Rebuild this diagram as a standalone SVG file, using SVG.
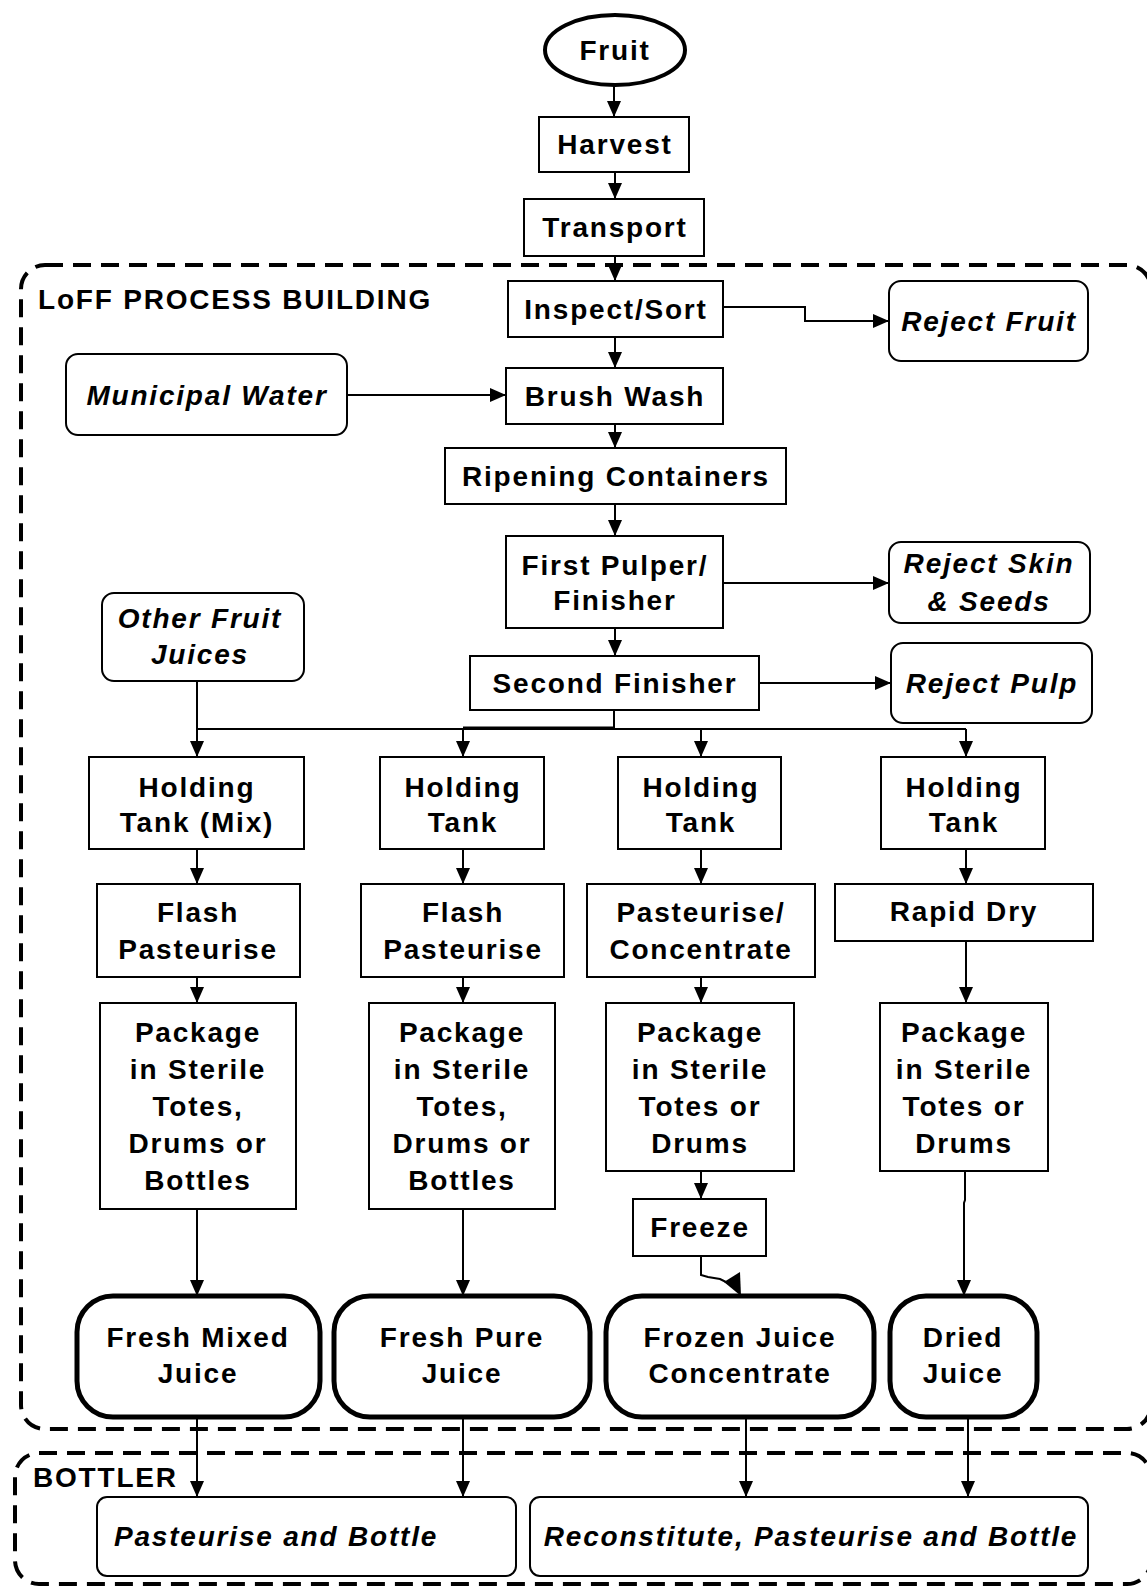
<svg xmlns="http://www.w3.org/2000/svg" width="1147" height="1586" viewBox="0 0 1147 1586">
<style>
  .bg{fill:#ffffff}
  .box{fill:#ffffff;stroke:#000;stroke-width:2}
  .ext{fill:#ffffff;stroke:#000;stroke-width:2}
  .fin{fill:#ffffff;stroke:#000;stroke-width:5}
  .zone{fill:none;stroke:#000;stroke-width:4;stroke-dasharray:18 10}
  .t{font-family:"Liberation Sans",Arial,sans-serif;font-weight:bold;font-size:28px;letter-spacing:1.8px;fill:#000;text-anchor:middle}
  .i{font-style:italic}
  .l{text-anchor:start}
  .c{fill:none;stroke:#000;stroke-width:2}
</style>
<defs>
  <marker id="ah" viewBox="0 0 16 14" refX="16" refY="7" markerWidth="16" markerHeight="14" markerUnits="userSpaceOnUse" orient="auto">
    <path d="M0,0 L16,7 L0,14 z" fill="#000"/>
  </marker>
</defs>
<rect class="bg" x="0" y="0" width="1147" height="1586"/>

<g id="zones">
  <rect class="zone" x="21" y="265" width="1130" height="1164" rx="24"/>
  <rect class="zone" x="15" y="1453" width="1136" height="131" rx="24"/>
  <text class="t l" x="38" y="309">LoFF PROCESS BUILDING</text>
  <text class="t l" x="33" y="1487">BOTTLER</text>
</g>

<g id="connectors">
  <path class="c" d="M614,86 V117" marker-end="url(#ah)"/>
  <path class="c" d="M615,172 V199" marker-end="url(#ah)"/>
  <path class="c" d="M615,256 V281" marker-end="url(#ah)"/>
  <path class="c" d="M723,307 H805 V321 H889" marker-end="url(#ah)"/>
  <path class="c" d="M615,337 V368" marker-end="url(#ah)"/>
  <path class="c" d="M347,395 H506" marker-end="url(#ah)"/>
  <path class="c" d="M615,424 V448" marker-end="url(#ah)"/>
  <path class="c" d="M615,504 V536" marker-end="url(#ah)"/>
  <path class="c" d="M723,583 H889" marker-end="url(#ah)"/>
  <path class="c" d="M615,628 V656" marker-end="url(#ah)"/>
  <path class="c" d="M759,683 H891" marker-end="url(#ah)"/>
  <path class="c" d="M614,710 V729"/>
  <path class="c" d="M197,729 H966"/>
  <path class="c" style="stroke-width:3" d="M463,728 H614"/>
  <path class="c" d="M197,681 V757" marker-end="url(#ah)"/>
  <path class="c" d="M463,729 V757" marker-end="url(#ah)"/>
  <path class="c" d="M701,729 V757" marker-end="url(#ah)"/>
  <path class="c" d="M966,729 V757" marker-end="url(#ah)"/>
  <path class="c" d="M197,849 V884" marker-end="url(#ah)"/>
  <path class="c" d="M463,849 V884" marker-end="url(#ah)"/>
  <path class="c" d="M701,849 V884" marker-end="url(#ah)"/>
  <path class="c" d="M966,849 V884" marker-end="url(#ah)"/>
  <path class="c" d="M197,977 V1003" marker-end="url(#ah)"/>
  <path class="c" d="M463,977 V1003" marker-end="url(#ah)"/>
  <path class="c" d="M701,977 V1003" marker-end="url(#ah)"/>
  <path class="c" d="M966,941 V1003" marker-end="url(#ah)"/>
  <path class="c" d="M197,1209 V1296" marker-end="url(#ah)"/>
  <path class="c" d="M463,1209 V1296" marker-end="url(#ah)"/>
  <path class="c" d="M701,1171 V1199" marker-end="url(#ah)"/>
  <path class="c" d="M701,1256 V1275 L708,1277 L720,1279 L732,1285"/>
  <polygon points="724,1282 740,1272 741,1296" fill="#000"/>
  <path class="c" d="M965,1171 V1200 L964,1203 V1296" marker-end="url(#ah)"/>
  <path class="c" d="M197,1417 V1497" marker-end="url(#ah)"/>
  <path class="c" d="M463,1417 V1497" marker-end="url(#ah)"/>
  <path class="c" d="M746,1417 V1497" marker-end="url(#ah)"/>
  <path class="c" d="M968,1417 V1497" marker-end="url(#ah)"/>
</g>

<g id="fruit">
  <ellipse cx="615" cy="50" rx="70" ry="35" fill="#fff" stroke="#000" stroke-width="4"/>
  <text class="t" x="615" y="60">Fruit</text>
</g>
<g id="harvest">
  <rect class="box" x="539" y="117" width="150" height="55"/>
  <text class="t" x="615" y="154">Harvest</text>
</g>
<g id="transport">
  <rect class="box" x="524" y="199" width="180" height="57"/>
  <text class="t" x="615" y="237">Transport</text>
</g>
<g id="inspect">
  <rect class="box" x="508" y="281" width="215" height="56"/>
  <text class="t" x="616" y="319">Inspect/Sort</text>
</g>
<g id="reject-fruit">
  <rect class="ext" x="889" y="281" width="199" height="80" rx="12"/>
  <text class="t i" x="989" y="331">Reject Fruit</text>
</g>
<g id="municipal-water">
  <rect class="ext" x="66" y="354" width="281" height="81" rx="12"/>
  <text class="t i" x="207" y="405">Municipal Water</text>
</g>
<g id="brush-wash">
  <rect class="box" x="506" y="368" width="217" height="56"/>
  <text class="t" x="615" y="406">Brush Wash</text>
</g>
<g id="ripening">
  <rect class="box" x="445" y="448" width="341" height="56"/>
  <text class="t" x="616" y="486">Ripening Containers</text>
</g>
<g id="first-pulper">
  <rect class="box" x="506" y="536" width="217" height="92"/>
  <text class="t" x="615" y="575">First Pulper/</text>
  <text class="t" x="615" y="610">Finisher</text>
</g>
<g id="reject-skin">
  <rect class="ext" x="889" y="542" width="201" height="81" rx="12"/>
  <text class="t i" x="989" y="573">Reject Skin</text>
  <text class="t i" x="989" y="611">&amp; Seeds</text>
</g>
<g id="other-fruit">
  <rect class="ext" x="102" y="593" width="202" height="88" rx="12"/>
  <text class="t i" x="200" y="628">Other Fruit</text>
  <text class="t i" x="200" y="664">Juices</text>
</g>
<g id="second-finisher">
  <rect class="box" x="470" y="656" width="289" height="54"/>
  <text class="t" x="615" y="693">Second Finisher</text>
</g>
<g id="reject-pulp">
  <rect class="ext" x="891" y="643" width="201" height="80" rx="12"/>
  <text class="t i" x="992" y="693">Reject Pulp</text>
</g>

<g id="holding-mix">
  <rect class="box" x="89" y="757" width="215" height="92"/>
  <text class="t" x="197" y="797">Holding</text>
  <text class="t" x="197" y="832">Tank (Mix)</text>
</g>
<g id="holding-2">
  <rect class="box" x="380" y="757" width="164" height="92"/>
  <text class="t" x="463" y="797">Holding</text>
  <text class="t" x="463" y="832">Tank</text>
</g>
<g id="holding-3">
  <rect class="box" x="618" y="757" width="163" height="92"/>
  <text class="t" x="701" y="797">Holding</text>
  <text class="t" x="701" y="832">Tank</text>
</g>
<g id="holding-4">
  <rect class="box" x="881" y="757" width="164" height="92"/>
  <text class="t" x="964" y="797">Holding</text>
  <text class="t" x="964" y="832">Tank</text>
</g>

<g id="flash-1">
  <rect class="box" x="97" y="884" width="203" height="93"/>
  <text class="t" x="198" y="922">Flash</text>
  <text class="t" x="198" y="959">Pasteurise</text>
</g>
<g id="flash-2">
  <rect class="box" x="361" y="884" width="203" height="93"/>
  <text class="t" x="463" y="922">Flash</text>
  <text class="t" x="463" y="959">Pasteurise</text>
</g>
<g id="pasteurise-concentrate">
  <rect class="box" x="587" y="884" width="228" height="93"/>
  <text class="t" x="701" y="922">Pasteurise/</text>
  <text class="t" x="701" y="959">Concentrate</text>
</g>
<g id="rapid-dry">
  <rect class="box" x="835" y="884" width="258" height="57"/>
  <text class="t" x="964" y="921">Rapid Dry</text>
</g>

<g id="package-1">
  <rect class="box" x="100" y="1003" width="196" height="206"/>
  <text class="t" x="198" y="1042">Package</text>
  <text class="t" x="198" y="1079">in Sterile</text>
  <text class="t" x="198" y="1116">Totes,</text>
  <text class="t" x="198" y="1153">Drums or</text>
  <text class="t" x="198" y="1190">Bottles</text>
</g>
<g id="package-2">
  <rect class="box" x="369" y="1003" width="186" height="206"/>
  <text class="t" x="462" y="1042">Package</text>
  <text class="t" x="462" y="1079">in Sterile</text>
  <text class="t" x="462" y="1116">Totes,</text>
  <text class="t" x="462" y="1153">Drums or</text>
  <text class="t" x="462" y="1190">Bottles</text>
</g>
<g id="package-3">
  <rect class="box" x="606" y="1003" width="188" height="168"/>
  <text class="t" x="700" y="1042">Package</text>
  <text class="t" x="700" y="1079">in Sterile</text>
  <text class="t" x="700" y="1116">Totes or</text>
  <text class="t" x="700" y="1153">Drums</text>
</g>
<g id="package-4">
  <rect class="box" x="880" y="1003" width="168" height="168"/>
  <text class="t" x="964" y="1042">Package</text>
  <text class="t" x="964" y="1079">in Sterile</text>
  <text class="t" x="964" y="1116">Totes or</text>
  <text class="t" x="964" y="1153">Drums</text>
</g>
<g id="freeze">
  <rect class="box" x="633" y="1199" width="133" height="57"/>
  <text class="t" x="700" y="1237">Freeze</text>
</g>

<g id="fresh-mixed">
  <rect class="fin" x="77" y="1296" width="243" height="121" rx="36"/>
  <text class="t" x="198" y="1347">Fresh Mixed</text>
  <text class="t" x="198" y="1383">Juice</text>
</g>
<g id="fresh-pure">
  <rect class="fin" x="334" y="1296" width="256" height="121" rx="36"/>
  <text class="t" x="462" y="1347">Fresh Pure</text>
  <text class="t" x="462" y="1383">Juice</text>
</g>
<g id="frozen">
  <rect class="fin" x="606" y="1296" width="268" height="121" rx="36"/>
  <text class="t" x="740" y="1347">Frozen Juice</text>
  <text class="t" x="740" y="1383">Concentrate</text>
</g>
<g id="dried">
  <rect class="fin" x="890" y="1296" width="147" height="121" rx="36"/>
  <text class="t" x="963" y="1347">Dried</text>
  <text class="t" x="963" y="1383">Juice</text>
</g>

<g id="pasteurise-bottle">
  <rect class="ext" x="97" y="1497" width="419" height="79" rx="10"/>
  <text class="t i l" x="114" y="1546">Pasteurise and Bottle</text>
</g>
<g id="reconstitute">
  <rect class="ext" x="530" y="1497" width="558" height="79" rx="10"/>
  <text class="t i" x="811" y="1546">Reconstitute, Pasteurise and Bottle</text>
</g>
</svg>
